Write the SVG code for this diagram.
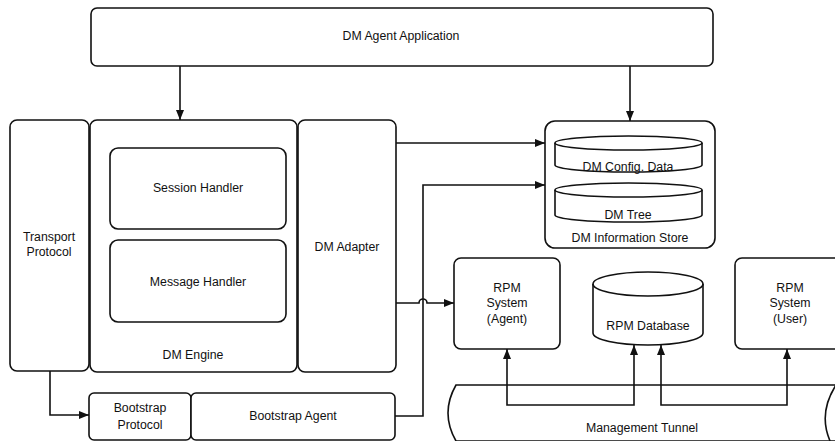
<svg xmlns="http://www.w3.org/2000/svg" width="835" height="441" viewBox="0 0 835 441">
<defs>
<style>
.box{fill:#fff;stroke:#111;stroke-width:1.6}
.cyl{fill:#fff;stroke:#111;stroke-width:1.6}
.ln{fill:none;stroke:#111;stroke-width:1.6}
text{font-family:"Liberation Sans",Arial,sans-serif;font-size:12.3px;fill:#111;text-anchor:middle}
</style>
<marker id="ah" viewBox="0 0 10 8" refX="10" refY="4" markerWidth="10" markerHeight="8" markerUnits="userSpaceOnUse" orient="auto-start-reverse">
<path d="M0,0 L10,4 L0,8 Z" fill="#111"/>
</marker>
</defs>
<rect width="835" height="441" fill="#fff"/>

<g id="dm-agent-application">
<rect class="box" x="91" y="8" width="622" height="58" rx="6"/>
<text x="401" y="40">DM Agent Application</text>
</g>

<g id="transport-protocol">
<rect class="box" x="10" y="120" width="79" height="251" rx="7"/>
<text x="49" y="241">Transport</text>
<text x="49" y="256">Protocol</text>
</g>

<g id="dm-engine">
<rect class="box" x="90" y="120" width="207" height="252" rx="7"/>
<text x="193" y="359">DM Engine</text>
</g>

<g id="session-handler">
<rect class="box" x="110" y="148" width="176" height="81" rx="8"/>
<text x="198" y="192">Session Handler</text>
</g>

<g id="message-handler">
<rect class="box" x="110" y="240" width="176" height="82" rx="8"/>
<text x="198" y="286">Message Handler</text>
</g>

<g id="dm-adapter">
<rect class="box" x="298" y="120" width="98" height="252" rx="7"/>
<text x="347" y="251">DM Adapter</text>
</g>

<g id="bootstrap-protocol">
<rect class="box" x="89" y="393" width="102" height="47" rx="5"/>
<text x="140" y="412">Bootstrap</text>
<text x="140" y="429">Protocol</text>
</g>

<g id="bootstrap-agent">
<rect class="box" x="191" y="393" width="204" height="47" rx="5"/>
<text x="293" y="420">Bootstrap Agent</text>
</g>

<g id="dm-information-store">
<rect class="box" x="545" y="121" width="170" height="127" rx="10"/>
<text x="630" y="242">DM Information Store</text>
</g>

<g id="dm-config-data">
<path class="cyl" d="M555,143 A73.5,7 0 0 1 702,143 L702,165 A73.5,7 0 0 1 555,165 Z"/>
<path class="ln" d="M555,143 A73.5,7 0 0 0 702,143"/>
<text x="628" y="171">DM Config. Data</text>
</g>

<g id="dm-tree">
<path class="cyl" d="M555,190 A73.5,7 0 0 1 702,190 L702,215 A73.5,7 0 0 1 555,215 Z"/>
<path class="ln" d="M555,190 A73.5,7 0 0 0 702,190"/>
<text x="628" y="219">DM Tree</text>
</g>

<g id="rpm-system-agent">
<rect class="box" x="454" y="258" width="106" height="91" rx="7"/>
<text x="507" y="292">RPM</text>
<text x="507" y="307">System</text>
<text x="507" y="323">(Agent)</text>
</g>

<g id="rpm-database">
<path class="cyl" d="M593,284 A55,12 0 0 1 703,284 L703,333 A55,12 0 0 1 593,333 Z"/>
<path class="ln" d="M593,284 A55,12 0 0 0 703,284"/>
<text x="648" y="330">RPM Database</text>
</g>

<g id="rpm-system-user">
<rect class="box" x="735" y="258" width="120" height="91" rx="7"/>
<text x="790" y="292">RPM</text>
<text x="790" y="307">System</text>
<text x="790" y="323">(User)</text>
</g>

<g id="management-tunnel">
<path class="box" d="M840,385 L456,385 Q440,413 456,441 L840,441 Z"/>
<path class="ln" d="M836,385 Q818,413 830,441"/>
<text x="642" y="432">Management Tunnel</text>
</g>

<g id="connectors">
<path class="ln" d="M180,66 L180,120" marker-end="url(#ah)"/>
<path class="ln" d="M630,66 L630,121" marker-end="url(#ah)"/>
<path class="ln" d="M396,143 L545,143" marker-end="url(#ah)"/>
<path class="ln" d="M395,416 L423,416 L423,185 L545,185" marker-end="url(#ah)"/>
<path class="ln" d="M396,303 L419,303 A4,4 0 0 1 427,303 L454,303" marker-end="url(#ah)"/>
<path class="ln" d="M50,371 L50,415 L89,415" marker-end="url(#ah)"/>
<path class="ln" d="M507,349 L507,405 L634,405 L634,345" marker-start="url(#ah)" marker-end="url(#ah)"/>
<path class="ln" d="M661,345 L661,405 L787,405 L787,349" marker-start="url(#ah)" marker-end="url(#ah)"/>
</g>
</svg>
